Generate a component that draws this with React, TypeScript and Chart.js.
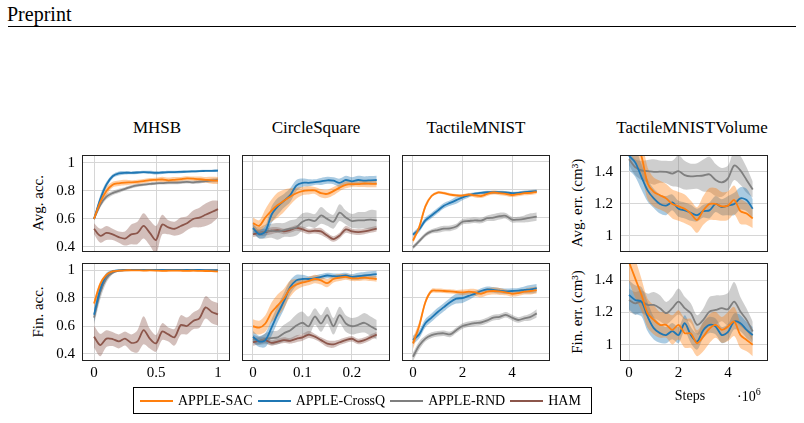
import React, { useEffect, useRef } from "react";
import { Chart, registerables } from "chart.js";

Chart.register(...registerables);

const FONT = '"Liberation Serif", "Times New Roman", serif';
const GRID = "#d6d6d6";

const SERIES_NAMES = ["APPLE-SAC", "APPLE-CrossQ", "APPLE-RND", "HAM"];
const LINE_COLORS = ["#ff7f0e", "#1f77b4", "#7f7f7f", "#8c564b"];
const BAND_COLORS = [
  "rgba(255,127,14,0.38)",
  "rgba(31,119,180,0.38)",
  "rgba(127,127,127,0.38)",
  "rgba(140,86,75,0.38)",
];

// ---- x positions ----
const mhsbSteps = [0, 0.05, 0.1, 0.15, 0.2, 0.25, 0.3, 0.35, 0.4, 0.45, 0.5, 0.55, 0.6, 0.65, 0.7, 0.75, 0.8, 0.85, 0.9, 0.95, 1];
const csSteps = [0, 0.0125, 0.025, 0.0375, 0.05, 0.0625, 0.075, 0.0875, 0.1, 0.1125, 0.125, 0.1375, 0.15, 0.1625, 0.175, 0.1875, 0.2, 0.2125, 0.225, 0.2375, 0.25];
const tmSteps = [0, 0.25, 0.5, 0.75, 1, 1.25, 1.5, 1.75, 2, 2.25, 2.5, 2.75, 3, 3.25, 3.5, 3.75, 4, 4.25, 4.5, 4.75, 5];

// ---- tick values ----
const accTicks = [0.4, 0.6, 0.8, 1];
const errTicks = [1, 1.2, 1.4];
const mhsbXTicks = [0, 0.5, 1];
const csXTicks = [0, 0.1, 0.2];
const tmXTicks = [0, 2, 4];

// ---- MHSB, average accuracy ----
const mhsbAvgSAC = [0.6, 0.72, 0.8, 0.845, 0.855, 0.86, 0.862, 0.865, 0.87, 0.878, 0.88, 0.882, 0.876, 0.88, 0.885, 0.89, 0.888, 0.884, 0.88, 0.876, 0.874];
const mhsbAvgSACsd = [0.01, 0.03, 0.03, 0.02, 0.02, 0.02, 0.015, 0.015, 0.015, 0.015, 0.015, 0.02, 0.02, 0.02, 0.015, 0.015, 0.015, 0.02, 0.02, 0.025, 0.025];
const mhsbAvgCQ = [0.6, 0.74, 0.845, 0.905, 0.925, 0.93, 0.93, 0.932, 0.935, 0.933, 0.93, 0.932, 0.935, 0.935, 0.937, 0.938, 0.94, 0.942, 0.943, 0.944, 0.945];
const mhsbAvgCQsd = [0.01, 0.03, 0.02, 0.015, 0.015, 0.012, 0.01, 0.01, 0.01, 0.012, 0.012, 0.01, 0.01, 0.01, 0.01, 0.008, 0.008, 0.008, 0.008, 0.008, 0.008];
const mhsbAvgRND = [0.6, 0.7, 0.76, 0.785, 0.8, 0.815, 0.83, 0.84, 0.845, 0.85, 0.855, 0.856, 0.86, 0.86, 0.862, 0.865, 0.862, 0.866, 0.87, 0.875, 0.878];
const mhsbAvgRNDsd = [0.01, 0.02, 0.02, 0.015, 0.015, 0.012, 0.012, 0.012, 0.01, 0.01, 0.01, 0.01, 0.012, 0.012, 0.012, 0.012, 0.012, 0.012, 0.012, 0.015, 0.015];
const mhsbAvgHAM = [0.53, 0.48, 0.5, 0.49, 0.47, 0.46, 0.49, 0.5, 0.55, 0.5, 0.45, 0.56, 0.54, 0.53, 0.55, 0.57, 0.6, 0.61, 0.63, 0.65, 0.67];
const mhsbAvgHAMsd = [0.04, 0.05, 0.05, 0.04, 0.04, 0.05, 0.07, 0.08, 0.09, 0.09, 0.1, 0.07, 0.05, 0.05, 0.06, 0.05, 0.06, 0.07, 0.08, 0.08, 0.06];

// ---- MHSB, final accuracy ----
const mhsbFinSAC = [0.76, 0.9, 0.965, 0.99, 0.995, 0.998, 0.998, 0.997, 0.996, 0.997, 0.996, 0.994, 0.995, 0.996, 0.995, 0.994, 0.995, 0.994, 0.993, 0.992, 0.99];
const mhsbFinSACsd = [0.03, 0.02, 0.01, 0.008, 0.005, 0.005, 0.005, 0.005, 0.005, 0.005, 0.005, 0.005, 0.005, 0.005, 0.005, 0.005, 0.005, 0.005, 0.006, 0.006, 0.006];
const mhsbFinCQ = [0.68, 0.86, 0.96, 0.99, 0.998, 1, 1, 1, 1, 1, 1, 1, 1, 1, 1, 1, 1, 1, 0.998, 0.998, 0.998];
const mhsbFinCQsd = [0.05, 0.04, 0.02, 0.01, 0.005, 0.004, 0.004, 0.004, 0.004, 0.004, 0.004, 0.004, 0.004, 0.004, 0.004, 0.004, 0.004, 0.004, 0.004, 0.004, 0.004];
const mhsbFinRND = [0.66, 0.84, 0.94, 0.98, 0.995, 0.998, 0.999, 0.999, 0.999, 0.999, 0.999, 0.999, 0.999, 0.999, 0.999, 0.999, 0.999, 0.999, 0.999, 0.999, 0.999];
const mhsbFinRNDsd = [0.05, 0.05, 0.03, 0.01, 0.005, 0.004, 0.004, 0.004, 0.004, 0.004, 0.004, 0.004, 0.004, 0.004, 0.004, 0.004, 0.004, 0.004, 0.004, 0.004, 0.004];
const mhsbFinHAM = [0.524, 0.464, 0.51, 0.507, 0.49, 0.51, 0.48, 0.49, 0.57, 0.51, 0.476, 0.56, 0.54, 0.52, 0.607, 0.6, 0.636, 0.655, 0.733, 0.7, 0.683];
const mhsbFinHAMsd = [0.08, 0.08, 0.06, 0.05, 0.05, 0.05, 0.06, 0.08, 0.1, 0.07, 0.06, 0.06, 0.05, 0.06, 0.07, 0.06, 0.06, 0.07, 0.08, 0.08, 0.08];

// ---- CircleSquare, average accuracy ----
const csAvgSAC = [0.56, 0.54, 0.6, 0.65, 0.69, 0.72, 0.75, 0.775, 0.79, 0.795, 0.795, 0.775, 0.77, 0.79, 0.815, 0.835, 0.84, 0.84, 0.845, 0.843, 0.843];
const csAvgSACsd = [0.04, 0.04, 0.06, 0.08, 0.09, 0.08, 0.06, 0.04, 0.03, 0.03, 0.025, 0.03, 0.03, 0.03, 0.025, 0.025, 0.02, 0.02, 0.025, 0.025, 0.025];
const csAvgCQ = [0.525, 0.48, 0.5, 0.62, 0.68, 0.72, 0.76, 0.83, 0.85, 0.85, 0.855, 0.86, 0.868, 0.865, 0.85, 0.87, 0.86, 0.87, 0.865, 0.868, 0.87];
const csAvgCQsd = [0.03, 0.03, 0.04, 0.06, 0.06, 0.05, 0.05, 0.04, 0.03, 0.025, 0.02, 0.025, 0.025, 0.025, 0.03, 0.03, 0.03, 0.03, 0.03, 0.03, 0.03];
const csAvgRND = [0.52, 0.49, 0.5, 0.505, 0.5, 0.51, 0.52, 0.53, 0.57, 0.585, 0.575, 0.615, 0.59, 0.57, 0.635, 0.6, 0.575, 0.58, 0.58, 0.585, 0.58];
const csAvgRNDsd = [0.03, 0.04, 0.05, 0.05, 0.06, 0.05, 0.06, 0.06, 0.06, 0.05, 0.05, 0.06, 0.05, 0.05, 0.06, 0.05, 0.05, 0.06, 0.06, 0.07, 0.07];
const csAvgHAM = [0.48, 0.49, 0.495, 0.505, 0.51, 0.5, 0.51, 0.525, 0.515, 0.5, 0.505, 0.5, 0.47, 0.445, 0.47, 0.515, 0.5, 0.495, 0.5, 0.51, 0.52];
const csAvgHAMsd = [0.02, 0.025, 0.025, 0.025, 0.02, 0.02, 0.02, 0.02, 0.02, 0.02, 0.02, 0.025, 0.02, 0.02, 0.02, 0.025, 0.02, 0.02, 0.02, 0.02, 0.02];

// ---- CircleSquare, final accuracy ----
const csFinSAC = [0.6, 0.59, 0.62, 0.7, 0.75, 0.8, 0.87, 0.9, 0.915, 0.925, 0.94, 0.93, 0.91, 0.94, 0.95, 0.955, 0.945, 0.945, 0.95, 0.945, 0.94];
const csFinSACsd = [0.05, 0.05, 0.06, 0.07, 0.08, 0.07, 0.06, 0.04, 0.03, 0.03, 0.03, 0.03, 0.03, 0.025, 0.025, 0.02, 0.02, 0.02, 0.02, 0.02, 0.02];
const csFinCQ = [0.525, 0.49, 0.5, 0.59, 0.69, 0.78, 0.88, 0.93, 0.94, 0.94, 0.945, 0.955, 0.965, 0.96, 0.96, 0.965, 0.955, 0.96, 0.965, 0.97, 0.975];
const csFinCQsd = [0.04, 0.04, 0.05, 0.06, 0.06, 0.06, 0.05, 0.04, 0.03, 0.02, 0.02, 0.02, 0.02, 0.02, 0.02, 0.02, 0.02, 0.025, 0.025, 0.025, 0.025];
const csFinRND = [0.51, 0.495, 0.51, 0.515, 0.52, 0.55, 0.57, 0.605, 0.625, 0.6, 0.67, 0.62, 0.68, 0.6, 0.68, 0.62, 0.6, 0.61, 0.625, 0.6, 0.575];
const csFinRNDsd = [0.03, 0.03, 0.04, 0.05, 0.05, 0.06, 0.07, 0.08, 0.08, 0.07, 0.06, 0.06, 0.06, 0.06, 0.06, 0.06, 0.06, 0.06, 0.07, 0.07, 0.07];
const csFinHAM = [0.485, 0.495, 0.5, 0.48, 0.49, 0.5, 0.495, 0.51, 0.52, 0.54, 0.525, 0.5, 0.475, 0.47, 0.485, 0.5, 0.51, 0.49, 0.5, 0.52, 0.54];
const csFinHAMsd = [0.025, 0.025, 0.02, 0.02, 0.02, 0.02, 0.02, 0.025, 0.025, 0.025, 0.02, 0.02, 0.025, 0.025, 0.02, 0.02, 0.02, 0.02, 0.02, 0.02, 0.02];

// ---- TactileMNIST, average accuracy ----
const tmAvgSAC = [0.434, 0.53, 0.68, 0.755, 0.78, 0.775, 0.765, 0.76, 0.758, 0.765, 0.76, 0.755, 0.77, 0.78, 0.775, 0.77, 0.762, 0.768, 0.775, 0.778, 0.785];
const tmAvgSACsd = [0.02, 0.02, 0.02, 0.01, 0.01, 0.01, 0.01, 0.01, 0.01, 0.012, 0.015, 0.015, 0.015, 0.015, 0.015, 0.015, 0.015, 0.015, 0.015, 0.015, 0.015];
const tmAvgCQ = [0.477, 0.515, 0.58, 0.615, 0.65, 0.685, 0.705, 0.725, 0.745, 0.76, 0.772, 0.778, 0.782, 0.782, 0.782, 0.78, 0.776, 0.778, 0.782, 0.786, 0.79];
const tmAvgCQsd = [0.015, 0.02, 0.02, 0.02, 0.02, 0.02, 0.02, 0.025, 0.02, 0.015, 0.01, 0.01, 0.01, 0.01, 0.01, 0.01, 0.01, 0.01, 0.012, 0.012, 0.012];
const tmAvgRND = [0.385, 0.43, 0.475, 0.5, 0.51, 0.52, 0.522, 0.535, 0.57, 0.575, 0.58, 0.578, 0.595, 0.6, 0.61, 0.612, 0.585, 0.585, 0.59, 0.6, 0.607];
const tmAvgRNDsd = [0.015, 0.015, 0.015, 0.015, 0.02, 0.02, 0.02, 0.02, 0.02, 0.02, 0.02, 0.02, 0.02, 0.025, 0.025, 0.02, 0.02, 0.02, 0.025, 0.03, 0.03];

// ---- TactileMNIST, final accuracy ----
const tmFinSAC = [0.476, 0.6, 0.77, 0.85, 0.852, 0.85, 0.847, 0.843, 0.84, 0.845, 0.84, 0.83, 0.845, 0.85, 0.847, 0.84, 0.83, 0.835, 0.845, 0.85, 0.857];
const tmFinSACsd = [0.04, 0.03, 0.02, 0.015, 0.015, 0.015, 0.015, 0.015, 0.02, 0.02, 0.025, 0.025, 0.025, 0.025, 0.025, 0.02, 0.02, 0.02, 0.02, 0.025, 0.025];
const tmFinCQ = [0.5, 0.54, 0.62, 0.66, 0.7, 0.735, 0.77, 0.795, 0.8, 0.815, 0.83, 0.85, 0.862, 0.858, 0.852, 0.848, 0.85, 0.852, 0.858, 0.862, 0.87];
const tmFinCQsd = [0.03, 0.03, 0.03, 0.03, 0.03, 0.03, 0.03, 0.035, 0.035, 0.03, 0.02, 0.02, 0.02, 0.02, 0.02, 0.02, 0.02, 0.02, 0.025, 0.03, 0.03];
const tmFinRND = [0.38, 0.46, 0.51, 0.535, 0.545, 0.548, 0.54, 0.57, 0.6, 0.612, 0.62, 0.625, 0.64, 0.66, 0.665, 0.68, 0.66, 0.643, 0.655, 0.665, 0.69];
const tmFinRNDsd = [0.03, 0.03, 0.02, 0.02, 0.02, 0.02, 0.02, 0.02, 0.02, 0.02, 0.02, 0.02, 0.02, 0.02, 0.02, 0.02, 0.02, 0.02, 0.02, 0.025, 0.03];

// ---- TactileMNISTVolume, average error ----
const volAvgSAC = [1.65, 1.58, 1.5, 1.33, 1.275, 1.255, 1.235, 1.2, 1.185, 1.17, 1.14, 1.1, 1.16, 1.2, 1.2, 1.185, 1.19, 1.225, 1.155, 1.14, 1.11];
const volAvgSACsd = [0.12, 0.12, 0.11, 0.1, 0.09, 0.09, 0.09, 0.09, 0.09, 0.09, 0.08, 0.08, 0.09, 0.1, 0.1, 0.09, 0.09, 0.09, 0.08, 0.07, 0.06];
const volAvgCQ = [1.5, 1.46, 1.37, 1.285, 1.235, 1.2, 1.19, 1.21, 1.17, 1.16, 1.145, 1.13, 1.155, 1.16, 1.2, 1.18, 1.19, 1.2, 1.235, 1.225, 1.17];
const volAvgCQsd = [0.09, 0.09, 0.08, 0.07, 0.06, 0.06, 0.06, 0.05, 0.05, 0.05, 0.05, 0.04, 0.04, 0.05, 0.05, 0.05, 0.06, 0.07, 0.07, 0.07, 0.06];
const volAvgRND = [1.48, 1.43, 1.41, 1.405, 1.4, 1.402, 1.4, 1.39, 1.405, 1.38, 1.372, 1.375, 1.378, 1.385, 1.35, 1.335, 1.36, 1.44, 1.41, 1.35, 1.29];
const volAvgRNDsd = [0.04, 0.05, 0.06, 0.07, 0.08, 0.07, 0.07, 0.08, 0.1, 0.09, 0.08, 0.08, 0.1, 0.11, 0.1, 0.09, 0.08, 0.09, 0.09, 0.08, 0.05];

// ---- TactileMNISTVolume, final error ----
const volFinSAC = [1.51, 1.41, 1.31, 1.195, 1.154, 1.123, 1.123, 1.092, 1.123, 1.072, 1.07, 1.01, 1.05, 1.1, 1.123, 1.092, 1.113, 1.144, 1.06, 1.03, 1.0];
const volFinSACsd = [0.12, 0.12, 0.1, 0.09, 0.09, 0.08, 0.08, 0.09, 0.09, 0.09, 0.09, 0.08, 0.09, 0.09, 0.08, 0.08, 0.09, 0.09, 0.08, 0.07, 0.07];
const volFinCQ = [1.308, 1.277, 1.267, 1.175, 1.103, 1.072, 1.06, 1.085, 1.06, 1.133, 1.06, 1.02, 1.09, 1.123, 1.113, 1.06, 1.08, 1.144, 1.133, 1.092, 1.06];
const volFinCQsd = [0.09, 0.09, 0.09, 0.09, 0.07, 0.06, 0.05, 0.05, 0.05, 0.05, 0.05, 0.05, 0.05, 0.05, 0.05, 0.05, 0.05, 0.05, 0.05, 0.05, 0.05];
const volFinRND = [1.277, 1.256, 1.267, 1.246, 1.246, 1.226, 1.195, 1.226, 1.267, 1.226, 1.195, 1.123, 1.154, 1.205, 1.215, 1.226, 1.22, 1.267, 1.205, 1.154, 1.082];
const volFinRNDsd = [0.07, 0.07, 0.07, 0.07, 0.08, 0.08, 0.07, 0.07, 0.08, 0.07, 0.06, 0.06, 0.07, 0.09, 0.09, 0.08, 0.1, 0.12, 0.09, 0.07, 0.06];

type Series = { color: number; mean: number[]; sd: number[] };
type PanelProps = {
  frame: [number, number, number, number];
  xs: number[];
  series: Series[];
  xRange: [number, number];
  yRange: [number, number];
  xTicks: number[];
  yTicks: number[];
  showX: boolean;
  showY: boolean;
};

const fmt = (v: number | string) => String(Math.round(Number(v) * 100) / 100);

const framePlugin = {
  id: "frame",
  afterDatasetsDraw(chart: any) {
    const { ctx, chartArea } = chart;
    const { left, top, right, bottom } = chartArea;
    ctx.save();
    ctx.strokeStyle = "#222";
    ctx.lineWidth = 1;
    ctx.strokeRect(left + 0.5, top + 0.5, right - left - 1, bottom - top - 1);
    ctx.restore();
  },
};

function Panel(p: PanelProps) {
  const ref = useRef<HTMLCanvasElement>(null);
  const YW = p.showY ? 44 : 2;
  const XH = p.showX ? 26 : 2;
  const PT = 10;
  const PR = 12;
  const [L, T, W, H] = p.frame;
  const cw = YW + W + PR;
  const ch = PT + H + XH;

  useEffect(() => {
    if (!ref.current) return;
    const datasets: any[] = [];
    p.series.forEach((s) => {
      datasets.push({
        data: p.xs.map((x, i) => ({ x, y: s.mean[i] - s.sd[i] })),
        borderColor: "rgba(0,0,0,0)",
        borderWidth: 0,
        pointRadius: 0,
        fill: false,
        order: 2,
        tension: 0.3,
        clip: 0,
      });
      datasets.push({
        data: p.xs.map((x, i) => ({ x, y: s.mean[i] + s.sd[i] })),
        borderColor: "rgba(0,0,0,0)",
        borderWidth: 0,
        pointRadius: 0,
        fill: "-1",
        backgroundColor: BAND_COLORS[s.color],
        order: 2,
        tension: 0.3,
        clip: 0,
      });
    });
    p.series.forEach((s) => {
      datasets.push({
        label: SERIES_NAMES[s.color],
        data: p.xs.map((x, i) => ({ x, y: s.mean[i] })),
        borderColor: LINE_COLORS[s.color],
        borderWidth: 1.8,
        pointRadius: 0,
        fill: false,
        order: 1,
        tension: 0.3,
        clip: 0,
      });
    });
    const zeroPad = (s: any) => {
      s.paddingTop = 0;
      s.paddingBottom = 0;
      s.paddingLeft = 0;
      s.paddingRight = 0;
    };
    const chart = new Chart(ref.current, {
      type: "line",
      data: { datasets },
      plugins: [framePlugin],
      options: {
        animation: false,
        responsive: false,
        events: [],
        layout: { padding: { top: PT, right: PR, left: 0, bottom: 0 } },
        plugins: {
          legend: { display: false },
          tooltip: { enabled: false },
        },
        scales: {
          x: {
            type: "linear",
            min: p.xRange[0],
            max: p.xRange[1],
            afterBuildTicks: (s: any) => {
              s.ticks = p.xTicks.map((v) => ({ value: v }));
            },
            afterFit: (s: any) => {
              s.height = XH;
              zeroPad(s);
            },
            ticks: {
              display: p.showX,
              font: { family: FONT, size: 15 },
              color: "#000",
              padding: 3,
              maxRotation: 0,
              autoSkip: false,
              callback: fmt,
            },
            grid: { color: GRID, lineWidth: 1, drawTicks: false },
            border: { display: false },
          },
          y: {
            type: "linear",
            min: p.yRange[0],
            max: p.yRange[1],
            afterBuildTicks: (s: any) => {
              s.ticks = p.yTicks.map((v) => ({ value: v }));
            },
            afterFit: (s: any) => {
              s.width = YW;
              zeroPad(s);
            },
            ticks: {
              display: p.showY,
              font: { family: FONT, size: 15 },
              color: "#000",
              padding: 7,
              autoSkip: false,
              callback: fmt,
            },
            grid: { color: GRID, lineWidth: 1, drawTicks: false },
            border: { display: false },
          },
        },
      } as any,
    });
    return () => chart.destroy();
  }, []);

  return (
    <canvas
      ref={ref}
      width={cw}
      height={ch}
      style={{ position: "absolute", left: L - YW, top: T - PT, width: cw, height: ch }}
    />
  );
}

const textBase: React.CSSProperties = {
  position: "absolute",
  fontFamily: FONT,
  color: "#000",
  whiteSpace: "nowrap",
  lineHeight: 1,
};

function Title({ cx, cy, text }: { cx: number; cy: number; text: string }) {
  return (
    <div style={{ ...textBase, left: cx, top: cy, fontSize: 17, transform: "translate(-50%,-50%)" }}>{text}</div>
  );
}

function YLabel({ cx, cy, children }: { cx: number; cy: number; children: React.ReactNode }) {
  return (
    <div style={{ ...textBase, left: cx, top: cy, fontSize: 15, transform: "translate(-50%,-50%) rotate(-90deg)" }}>
      {children}
    </div>
  );
}

const COLS = [82, 242, 402, 620];
const FW = 148;
const TOP_ROW: [number, number] = [155, 97];
const BOT_ROW: [number, number] = [263, 98];

export default function App() {
  const S = (color: number, mean: number[], sd: number[]): Series => ({ color, mean, sd });
  return (
    <div style={{ position: "absolute", left: 0, top: 0, width: 804, height: 423, background: "#fff", overflow: "hidden" }}>
      <div style={{ ...textBase, left: 7, top: 4, fontSize: 20 }}>Preprint</div>
      <div style={{ position: "absolute", left: 8, top: 26, width: 788, height: 1, background: "#000" }} />

      <Title cx={157} cy={127} text="MHSB" />
      <Title cx={316} cy={127} text="CircleSquare" />
      <Title cx={476} cy={127} text="TactileMNIST" />
      <Title cx={692} cy={127} text="TactileMNISTVolume" />

      <YLabel cx={38} cy={203}>Avg. acc.</YLabel>
      <YLabel cx={38} cy={312}>Fin. acc.</YLabel>
      <YLabel cx={577} cy={203}>Avg. err. (cm³)</YLabel>
      <YLabel cx={577} cy={312}>Fin. err. (cm³)</YLabel>

      {/* Top row */}
      <Panel
        frame={[COLS[0], TOP_ROW[0], FW, TOP_ROW[1]]}
        xs={mhsbSteps}
        series={[S(0, mhsbAvgSAC, mhsbAvgSACsd), S(1, mhsbAvgCQ, mhsbAvgCQsd), S(2, mhsbAvgRND, mhsbAvgRNDsd), S(3, mhsbAvgHAM, mhsbAvgHAMsd)]}
        xRange={[-0.097, 1.097]}
        yRange={[0.364, 1.057]}
        xTicks={mhsbXTicks}
        yTicks={accTicks}
        showX={false}
        showY={true}
      />
      <Panel
        frame={[COLS[1], TOP_ROW[0], FW, TOP_ROW[1]]}
        xs={csSteps}
        series={[S(0, csAvgSAC, csAvgSACsd), S(1, csAvgCQ, csAvgCQsd), S(2, csAvgRND, csAvgRNDsd), S(3, csAvgHAM, csAvgHAMsd)]}
        xRange={[-0.0222, 0.2768]}
        yRange={[0.352, 1.05]}
        xTicks={csXTicks}
        yTicks={accTicks}
        showX={false}
        showY={false}
      />
      <Panel
        frame={[COLS[2], TOP_ROW[0], FW, TOP_ROW[1]]}
        xs={tmSteps}
        series={[S(0, tmAvgSAC, tmAvgSACsd), S(1, tmAvgCQ, tmAvgCQsd), S(2, tmAvgRND, tmAvgRNDsd)]}
        xRange={[-0.444, 5.535]}
        yRange={[0.352, 1.05]}
        xTicks={tmXTicks}
        yTicks={accTicks}
        showX={false}
        showY={false}
      />
      <Panel
        frame={[COLS[3], TOP_ROW[0], FW, TOP_ROW[1]]}
        xs={tmSteps}
        series={[S(0, volAvgSAC, volAvgSACsd), S(1, volAvgCQ, volAvgCQsd), S(2, volAvgRND, volAvgRNDsd)]}
        xRange={[-0.364, 5.616]}
        yRange={[0.9, 1.506]}
        xTicks={tmXTicks}
        yTicks={errTicks}
        showX={false}
        showY={true}
      />

      {/* Bottom row */}
      <Panel
        frame={[COLS[0], BOT_ROW[0], FW, BOT_ROW[1]]}
        xs={mhsbSteps}
        series={[S(0, mhsbFinSAC, mhsbFinSACsd), S(1, mhsbFinCQ, mhsbFinCQsd), S(2, mhsbFinRND, mhsbFinRNDsd), S(3, mhsbFinHAM, mhsbFinHAMsd)]}
        xRange={[-0.097, 1.097]}
        yRange={[0.35, 1.05]}
        xTicks={mhsbXTicks}
        yTicks={accTicks}
        showX={true}
        showY={true}
      />
      <Panel
        frame={[COLS[1], BOT_ROW[0], FW, BOT_ROW[1]]}
        xs={csSteps}
        series={[S(0, csFinSAC, csFinSACsd), S(1, csFinCQ, csFinCQsd), S(2, csFinRND, csFinRNDsd), S(3, csFinHAM, csFinHAMsd)]}
        xRange={[-0.0222, 0.2768]}
        yRange={[0.35, 1.055]}
        xTicks={csXTicks}
        yTicks={accTicks}
        showX={true}
        showY={false}
      />
      <Panel
        frame={[COLS[2], BOT_ROW[0], FW, BOT_ROW[1]]}
        xs={tmSteps}
        series={[S(0, tmFinSAC, tmFinSACsd), S(1, tmFinCQ, tmFinCQsd), S(2, tmFinRND, tmFinRNDsd)]}
        xRange={[-0.444, 5.535]}
        yRange={[0.35, 1.05]}
        xTicks={tmXTicks}
        yTicks={accTicks}
        showX={true}
        showY={false}
      />
      <Panel
        frame={[COLS[3], BOT_ROW[0], FW, BOT_ROW[1]]}
        xs={tmSteps}
        series={[S(0, volFinSAC, volFinSACsd), S(1, volFinCQ, volFinCQsd), S(2, volFinRND, volFinRNDsd)]}
        xRange={[-0.364, 5.616]}
        yRange={[0.9, 1.505]}
        xTicks={tmXTicks}
        yTicks={errTicks}
        showX={true}
        showY={true}
      />

      <div style={{ ...textBase, left: 690, top: 396, fontSize: 14, transform: "translate(-50%,-50%)" }}>Steps</div>
      <div style={{ ...textBase, left: 737, top: 387, fontSize: 14 }}>
        ·10<sup style={{ fontSize: 10, verticalAlign: "6px" }}>6</sup>
      </div>

      <div
        style={{
          position: "absolute",
          left: 133,
          top: 387,
          width: 459,
          height: 27,
          border: "1px solid #000",
          display: "flex",
          alignItems: "center",
          paddingLeft: 6,
          boxSizing: "border-box",
          fontFamily: FONT,
          fontSize: 14,
          whiteSpace: "nowrap",
        }}
      >
        {SERIES_NAMES.map((name, i) => (
          <div key={name} style={{ display: "flex", alignItems: "center", marginRight: 5 }}>
            <div style={{ width: 33, height: 2, background: LINE_COLORS[i], marginRight: 5 }} />
            <span>{name}</span>
          </div>
        ))}
      </div>
    </div>
  );
}
